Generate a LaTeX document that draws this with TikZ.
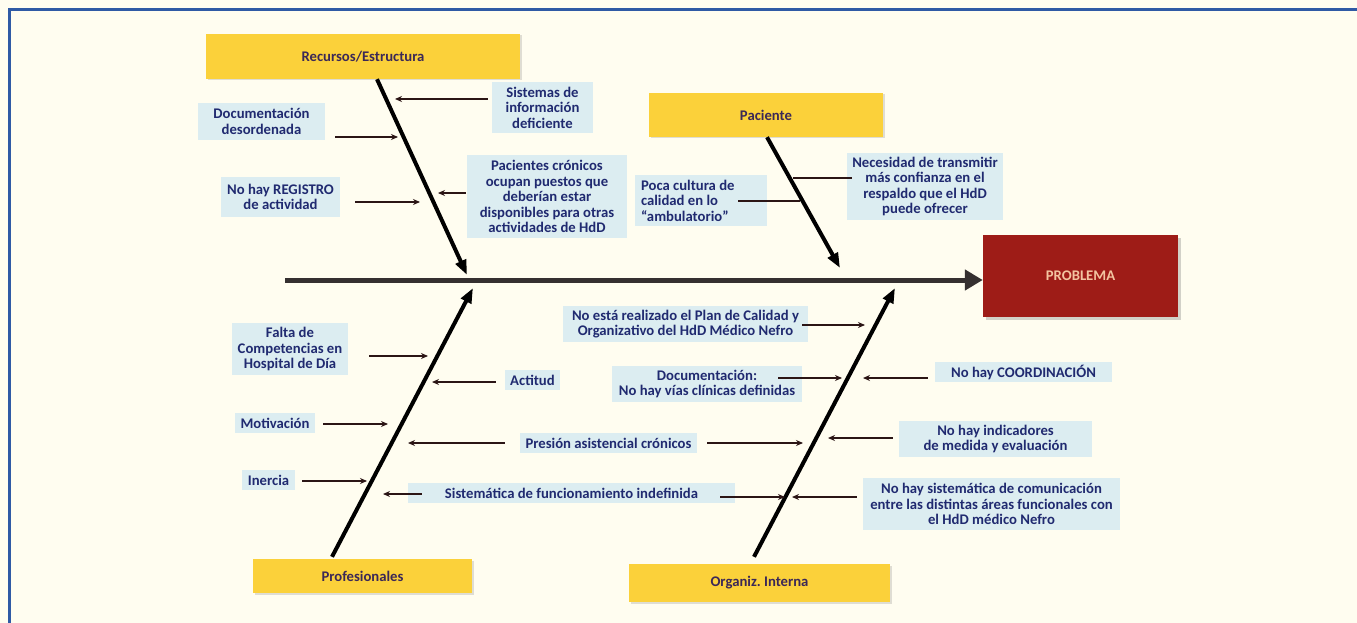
\documentclass[tikz,border=0pt]{standalone}
\usepackage{fontspec}
\setmainfont{Carlito}
\usetikzlibrary{arrows.meta,shadows}
\definecolor{bgc}{HTML}{FFFDF0}
\definecolor{framec}{HTML}{2F5AA5}
\definecolor{yelc}{HTML}{FBD13A}
\definecolor{cattxt}{HTML}{3B2857}
\definecolor{boxc}{HTML}{DCEDF1}
\definecolor{txtc}{HTML}{202A70}
\definecolor{probc}{HTML}{9E1C17}
\definecolor{probtxt}{HTML}{F3C4A0}
\definecolor{arrc}{HTML}{2B1515}
\definecolor{spinec}{HTML}{353030}
\tikzset{
  tbox/.style={fill=boxc, text=txtc, inner sep=0pt, align=center},
  ybox/.style={fill=yelc, text=cattxt, inner sep=0pt, align=center,
    drop shadow={shadow xshift=1.5pt, shadow yshift=-1.5pt, opacity=0.25}},
  arr/.style={draw=arrc, line width=2.2pt, -{Stealth[length=7pt,width=6pt]}},
  plain/.style={draw=arrc, line width=2.2pt},
  bone/.style={draw=black, line width=4pt, -{Triangle[length=15pt,width=11pt]}},
  spine/.style={draw=spinec, line width=5pt, -{Triangle[length=18pt,width=20pt]}}
}
\begin{document}
\begin{tikzpicture}[x=1pt,y=-1pt,font=\bfseries\fontsize{14.7}{15.5}\selectfont]
\useasboundingbox (0,0) rectangle (1357,623);
\fill[bgc] (0,0) rectangle (1357,623);
\draw[framec, line width=2.2pt] (9.5,623) -- (9.5,9.5) -- (1357,9.5);

% category boxes
\node[ybox, minimum width=314, minimum height=45] (rec) at (363,56.5) {Recursos/Estructura};
\node[ybox, minimum width=234, minimum height=44] (pac) at (766,115) {Paciente};
\node[ybox, minimum width=219, minimum height=34] (pro) at (362.5,576) {Profesionales};
\node[ybox, minimum width=261, minimum height=38] (org) at (759.5,583) {Organiz.\ Interna};
\node[fill=probc, text=probtxt, inner sep=0pt, minimum width=195, minimum height=82,
  drop shadow={shadow xshift=3pt, shadow yshift=-3pt, opacity=0.35}] (prob) at (1080.5,276) {PROBLEMA};

% cause boxes
\node[tbox, minimum width=101, minimum height=51] (sist) at (542.5,107.5) {Sistemas de\\información\\deficiente};
\node[tbox, minimum width=127, minimum height=37] (docd) at (261.5,121.5) {Documentación\\desordenada};
\node[tbox, minimum width=160, minimum height=83] (pacc) at (547,196.5) {Pacientes crónicos\\ocupan puestos que\\deberían estar\\disponibles para otras\\actividades de HdD};
\node[tbox, minimum width=119, minimum height=40] (reg) at (280.5,197) {No hay REGISTRO\\de actividad};
\node[tbox, align=flush left, minimum width=132, minimum height=51, text width=120] (poca) at (701,200.5) {Poca cultura de\\calidad en lo\\“ambulatorio”};
\node[tbox, minimum width=156, minimum height=67] (nec) at (925,186.5) {Necesidad de transmitir\\más confianza en el\\respaldo que el HdD\\puede ofrecer};
\node[tbox, minimum width=116, minimum height=52] (falta) at (290,349) {Falta de\\Competencias en\\Hospital de Día};
\node[tbox, minimum width=55, minimum height=20] (act) at (532.5,380) {Actitud};
\node[tbox, minimum width=80, minimum height=20] (mot) at (275,423) {Motivación};
\node[tbox, minimum width=177, minimum height=20] (pres) at (608.5,443) {Presión asistencial crónicos};
\node[tbox, minimum width=53, minimum height=20] (iner) at (268.5,480) {Inercia};
\node[tbox, minimum width=327, minimum height=20] (sistf) at (571.5,493) {Sistemática de funcionamiento indefinida};
\node[tbox, minimum width=245, minimum height=36] (plan) at (685.5,324) {No está realizado el Plan de Calidad y\\Organizativo del HdD Médico Nefro};
\node[tbox, minimum width=190, minimum height=36] (docv) at (707,384) {Documentación:\\No hay vías clínicas definidas};
\node[tbox, minimum width=177, minimum height=20] (coord) at (1023.5,372) {No hay COORDINACIÓN};
\node[tbox, minimum width=193, minimum height=36] (ind) at (995.5,439) {No hay indicadores\\de medida y evaluación};
\node[tbox, minimum width=257, minimum height=52] (com) at (991.5,504) {No hay sistemática de comunicación\\entre las distintas áreas funcionales con\\el HdD médico Nefro};

% spine and bones
\coordinate (s0) at (285,280);
\draw[spine] (s0) -- (s0 -| prob.west);
\coordinate (rb) at (467,275);
\coordinate (pb) at (840,268);
\coordinate (fb) at (473,288);
\coordinate (ob) at (895,288);
\draw[bone] ([xshift=14]rec.south) -- (rb);
\draw[bone] ([xshift=1]pac.south) -- (pb);
\draw[bone] ([xshift=-30.5,yshift=2]pro.north) -- (fb);
\draw[bone] ([xshift=-5.5,yshift=7]org.north) -- (ob);

% arrow end points
\coordinate (e1) at (395,99);
\coordinate (e2) at (398,137);
\coordinate (e3) at (438,193);
\coordinate (e4) at (420,202);
\coordinate (e5) at (800,201);
\coordinate (e6) at (793,178);
\coordinate (e7) at (428,356);
\coordinate (e8) at (432,382);
\coordinate (e9) at (388,424);
\coordinate (e10) at (408,443);
\coordinate (e11) at (367,481);
\coordinate (e12) at (383,494);
\coordinate (e13) at (865,325);
\coordinate (e14) at (842,378);
\coordinate (e15) at (863,378);
\coordinate (e16) at (803,443);
\coordinate (e17) at (828,438);
\coordinate (e18) at (785,497);
\coordinate (e19) at (792,497);

\draw[arr] ([xshift=-4]sist.west |- e1) -- (e1);
\draw[arr] ([xshift=10]docd.east |- e2) -- (e2);
\draw[arr] ([xshift=-1]pacc.west |- e3) -- (e3);
\draw[arr] ([xshift=15]reg.east |- e4) -- (e4);
\draw[plain] ([xshift=-29]poca.east |- e5) -- (e5);
\draw[plain] ([xshift=5]nec.west |- e6) -- (e6);
\draw[arr] ([xshift=21]falta.east |- e7) -- (e7);
\draw[arr] ([xshift=-9]act.west |- e8) -- (e8);
\draw[arr] ([xshift=8]mot.east |- e9) -- (e9);
\draw[arr] ([xshift=-15]pres.west |- e10) -- (e10);
\draw[arr] ([xshift=7]iner.east |- e11) -- (e11);
\draw[arr] ([xshift=14]sistf.west |- e12) -- (e12);
\draw[arr] ([xshift=-6]plan.east |- e13) -- (e13);
\draw[arr] ([xshift=-24]docv.east |- e14) -- (e14);
\draw[arr] ([xshift=-7]coord.west |- e15) -- (e15);
\draw[arr] ([xshift=10]pres.east |- e16) -- (e16);
\draw[arr] ([xshift=-6]ind.west |- e17) -- (e17);
\draw[arr] ([xshift=-15]sistf.east |- e18) -- (e18);
\draw[arr] ([xshift=-6]com.west |- e19) -- (e19);
\end{tikzpicture}
\end{document}
